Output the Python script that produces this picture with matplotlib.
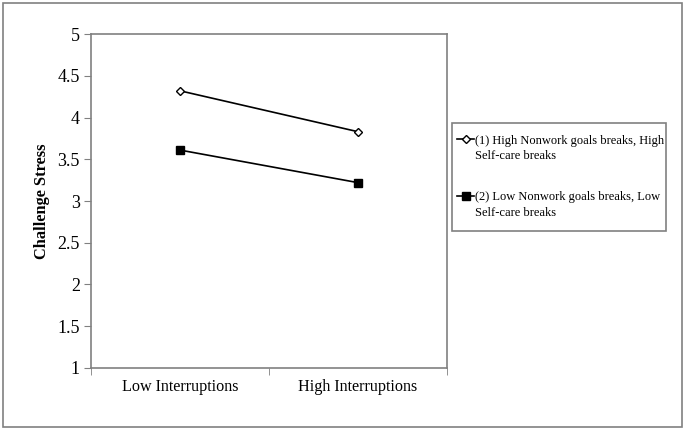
import numpy as np
import matplotlib.pyplot as plt
from matplotlib.patches import Rectangle

plt.rcParams['font.family'] = ['Liberation Serif', 'DejaVu Serif']

categories = ["Low Interruptions", "High Interruptions"]
high_breaks = [4.32, 3.83]
low_breaks = [3.61, 3.22]
labels = ["(1) High Nonwork goals breaks, High\nSelf-care breaks",
          "(2) Low Nonwork goals breaks, Low\nSelf-care breaks"]
yticks = [1, 1.5, 2, 2.5, 3, 3.5, 4, 4.5, 5]

fig = plt.figure(figsize=(6.85, 4.3), dpi=100)
ax = fig.add_axes([0.1328, 0.1442, 0.5197, 0.7767])

x = np.arange(len(categories))
ax.plot(x, high_breaks, color="black", lw=1.2, marker="D", ms=4.5,
        mfc="white", mec="black", mew=1, label=labels[0])
ax.plot(x, low_breaks, color="black", lw=1.2, marker="s", ms=6,
        mfc="black", mec="black", label=labels[1])

ax.set_xlim(-0.5, 1.5)
ax.set_ylim(1, 5)
ax.set_yticks(yticks)
ax.set_yticklabels([f"{v:g}" for v in yticks])
ax.set_xticks(x)
ax.set_xticklabels(categories)
ax.set_xticks([-0.5, 0.5, 1.5], minor=True)
ax.tick_params(axis="x", which="major", length=0, pad=8, labelsize=11.6)
ax.tick_params(axis="x", which="minor", length=5, direction="out", color="#808080")
ax.tick_params(axis="y", length=5, direction="out", color="#808080", labelsize=13, pad=3)
for s in ax.spines.values():
    s.set_color("#808080")
    s.set_linewidth(1.2)

ax.set_ylabel("Challenge Stress", fontsize=11.8, fontweight="bold", labelpad=5)

# legend: no own frame, box drawn separately so the padding matches
leg = ax.legend(loc="upper left", bbox_to_anchor=(457 / 685, 1 - 135 / 430),
                bbox_transform=fig.transFigure, frameon=False, fontsize=9,
                handlelength=1.36, labelspacing=2.34, borderpad=0, borderaxespad=0,
                handletextpad=0.1)
for t in leg.get_texts():
    t.set_linespacing(1.35)
for col in leg._legend_handle_box.get_children():
    for item in col.get_children():
        item.align = "top"

fig.patches.append(Rectangle((452 / 685, 1 - 231 / 430), 214 / 685, 108 / 430,
                             transform=fig.transFigure, fill=False,
                             edgecolor="#808080", lw=1.2))
fig.patches.append(Rectangle((0.005, 0.008), 0.99, 0.985, transform=fig.transFigure,
                             fill=False, edgecolor="#808080", lw=1.2))

fig.savefig("out.png", dpi=100)
